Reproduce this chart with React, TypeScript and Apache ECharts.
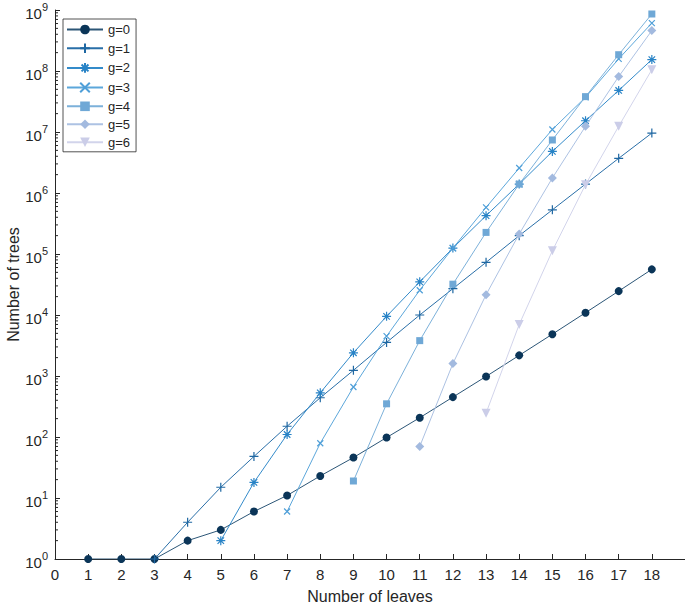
import React, { useEffect, useRef } from "react";
import * as echarts from "echarts";

const leaves = [1, 2, 3, 4, 5, 6, 7, 8, 9, 10, 11, 12, 13, 14, 15, 16, 17, 18];
const xTicks = [0, 1, 2, 3, 4, 5, 6, 7, 8, 9, 10, 11, 12, 13, 14, 15, 16, 17, 18];
const yExponents = [0, 1, 2, 3, 4, 5, 6, 7, 8, 9];

const g0 = [1, 1, 1, 2, 3, 6, 11, 23, 46, 98, 207, 451, 983, 2179, 4850, 10905, 24631, 56011];
const g1 = [null, null, 1, 4, 15, 48, 150, 440, 1240, 3550, 10000, 27000, 73000, 200000, 530000, 1.4e6, 3.7e6, 9.6e6];
const g2 = [null, null, null, null, 2, 18, 110, 530, 2400, 9500, 35000, 125000, 425000, 1.4e6, 4.8e6, 1.53e7, 4.8e7, 1.54e8];
const g3 = [null, null, null, null, null, null, 6, 79, 660, 4500, 25500, 125000, 580000, 2.57e6, 1.1e7, 3.7e7, 1.58e8, 6.1e8];
const g4 = [null, null, null, null, null, null, null, null, 19, 350, 3800, 32000, 226000, 1.4e6, 7.4e6, 3.8e7, 1.85e8, 8.6e8];
const g5 = [null, null, null, null, null, null, null, null, null, null, 70, 1600, 21500, 213000, 1.76e6, 1.24e7, 8.1e7, 4.6e8];
const g6 = [null, null, null, null, null, null, null, null, null, null, null, null, 246, 7000, 113000, 1.37e6, 1.24e7, 1.05e8];

const seriesNames = ["g=0", "g=1", "g=2", "g=3", "g=4", "g=5", "g=6"];
const seriesValues = [g0, g1, g2, g3, g4, g5, g6];
const seriesColors = ["#0b3558", "#1e67a2", "#2883c6", "#4f9fd8", "#6fa8d6", "#a3badf", "#cbcde8"];
const lineColors = ["#2c5677", "#2a6fa8", "#348bca", "#5ca7db", "#7cb1da", "#adc2e3", "#d2d4eb"];
const seriesSymbols = [
  "circle",
  "path://M0,-1L0,1M-1,0L1,0",
  "path://M0,-1L0,1M-1,0L1,0M-0.72,-0.72L0.72,0.72M-0.72,0.72L0.72,-0.72",
  "path://M-1,-1L1,1M-1,1L1,-1",
  "rect",
  "diamond",
  "path://M-1,-0.8L1,-0.8L0,1Z",
];
const symbolSizes = [8, 9, 9, 6, 7, 9, 9];
const strokeOnly = [false, true, true, true, false, false, false];

const FONT = "'Liberation Sans', Arial, Helvetica, sans-serif";
const AX = "#262626";

export default function App() {
  const ref = useRef<HTMLDivElement>(null);
  useEffect(() => {
    if (!ref.current) return;
    const chart = echarts.init(ref.current, null, { renderer: "svg" });

    const minorTicks: number[][] = [];
    for (let k = 0; k < 9; k++) {
      for (let m = 2; m <= 9; m++) minorTicks.push([0, m * Math.pow(10, k)]);
    }

    const lineSeries = seriesNames.map((name, i) => ({
      name,
      type: "line",
      data: leaves
        .map((x, j) => [x, seriesValues[i][j]])
        .filter((d) => d[1] !== null),
      symbol: seriesSymbols[i],
      symbolSize: symbolSizes[i],
      showAllSymbol: true,
      lineStyle: { color: lineColors[i], width: 1 },
      itemStyle: {
        color: strokeOnly[i] ? "none" : seriesColors[i],
        borderColor: seriesColors[i],
        borderWidth: strokeOnly[i] ? 1.2 : 0,
      },
      emphasis: { disabled: true },
      z: 2 + i,
    }));

    chart.setOption({
      animation: false,
      grid: {
        left: 55,
        right: 0,
        top: 10,
        bottom: 48,
        containLabel: false,
        outerBoundsMode: "none",
      },
      legend: {
        data: seriesNames,
        orient: "vertical",
        left: 63,
        top: 19,
        itemWidth: 36,
        itemHeight: 12,
        itemGap: 5,
        itemTextGap: 3,
        padding: [4, 6, 3, 3],
        borderColor: AX,
        borderWidth: 0.8,
        backgroundColor: "#ffffff",
        textStyle: { fontFamily: FONT, fontSize: 13, color: AX },
        selectedMode: false,
      },
      xAxis: {
        type: "value",
        min: 0,
        max: 19,
        interval: 1,
        name: "Number of leaves",
        nameLocation: "middle",
        nameGap: 29,
        nameMoveOverlap: false,
        nameTextStyle: { fontFamily: FONT, fontSize: 16, color: AX },
        axisLine: { lineStyle: { color: AX, width: 1 } },
        axisTick: { inside: true, length: 5, lineStyle: { color: AX } },
        axisLabel: {
          fontFamily: FONT,
          fontSize: 15,
          color: AX,
          margin: 8,
          formatter: (v: number) => (xTicks.indexOf(v) >= 0 ? String(v) : ""),
        },
        splitLine: { show: false },
      },
      yAxis: {
        type: "log",
        logBase: 10,
        min: 1,
        max: 1e9,
        splitNumber: 9,
        name: "Number of trees",
        nameLocation: "middle",
        nameGap: 34,
        nameMoveOverlap: false,
        nameTextStyle: { fontFamily: FONT, fontSize: 16, color: AX },
        axisLine: { show: true, lineStyle: { color: AX, width: 1 } },
        axisTick: { inside: true, length: 5, lineStyle: { color: AX } },
        axisLabel: {
          fontFamily: FONT,
          color: AX,
          margin: 7,
          formatter: (v: number) => {
            const e = Math.round(Math.log10(v));
            return yExponents.indexOf(e) >= 0 ? `{b|10}{s|${e}}` : "";
          },
          rich: {
            b: { fontFamily: FONT, fontSize: 15, color: AX, padding: [6, 0, 0, 0] },
            s: { fontFamily: FONT, fontSize: 11, color: AX, padding: [0, 0, 6, 0] },
          },
        },
        splitLine: { show: false },
      },
      series: [
        {
          type: "custom",
          silent: true,
          z: 1,
          data: minorTicks,
          renderItem: (_params: any, api: any) => {
            const p = api.coord([api.value(0), api.value(1)]);
            return {
              type: "line",
              shape: { x1: p[0], y1: p[1], x2: p[0] + 3, y2: p[1] },
              style: { stroke: AX, lineWidth: 1 },
            };
          },
        },
        ...lineSeries,
      ],
    });
    return () => chart.dispose();
  }, []);
  return (
    <div
      ref={ref}
      style={{ position: "absolute", left: 0, top: 0, width: 685, height: 607 }}
    />
  );
}
